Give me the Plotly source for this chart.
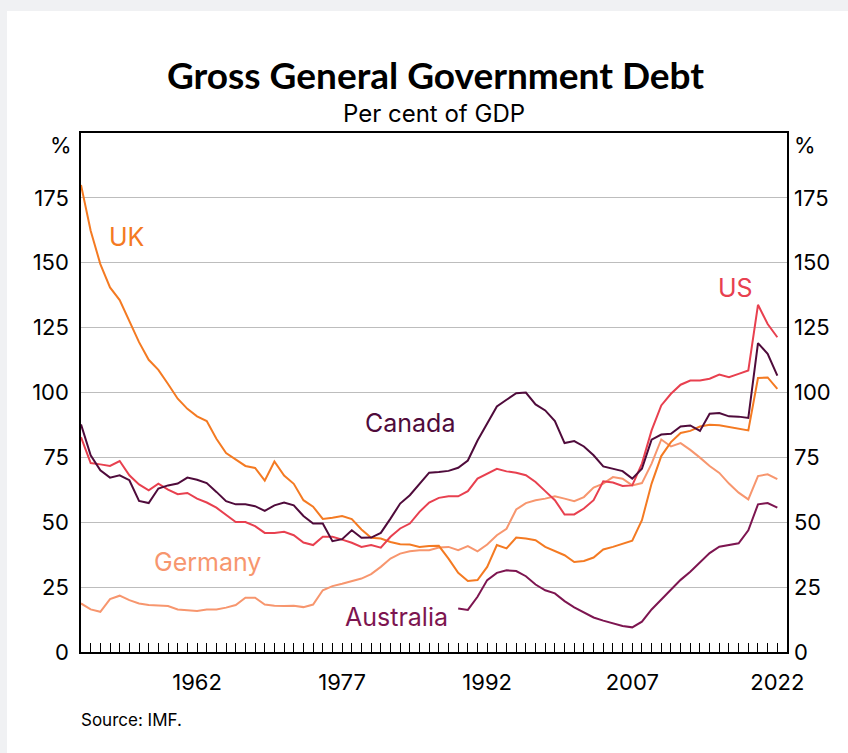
import plotly.graph_objects as go

years = list(range(1950, 2023))
years_aus = list(range(1989, 2023))

uk = [180.0, 162.3, 149.5, 140.5, 135.6, 127.7, 119.4, 112.6, 108.7, 103.3,
      97.6, 93.7, 90.8, 89.0, 82.2, 76.7, 74.1, 71.7, 70.9, 66.0,
      73.4, 68.0, 64.8, 58.5, 56.0, 51.3, 51.7, 52.4, 51.2, 47.2,
      44.0, 43.7, 42.4, 41.5, 41.4, 40.5, 40.8, 40.9, 36.0, 30.5,
      27.4, 27.7, 32.8, 41.2, 39.9, 44.1, 43.7, 43.1, 40.5, 38.8,
      37.3, 34.7, 35.1, 36.4, 39.5, 40.5, 41.8, 42.9, 50.8, 64.9,
      75.5, 80.9, 84.4, 85.2, 86.9, 87.6, 87.4, 86.7, 86.2, 85.4,
      105.6, 105.8, 101.4]

us = [82.8, 72.8, 72.3, 71.7, 73.6, 68.1, 64.6, 62.3, 64.9, 62.6,
      60.8, 61.3, 59.1, 57.6, 55.6, 53.0, 50.1, 50.1, 48.5, 45.9,
      45.9, 46.3, 45.0, 42.2, 41.2, 44.4, 44.4, 43.3, 42.1, 40.5,
      41.2, 40.2, 44.4, 47.6, 49.5, 54.0, 57.6, 59.4, 60.0, 60.0,
      62.0, 66.8, 68.7, 70.6, 69.6, 69.1, 68.1, 65.5, 62.0, 58.5,
      53.0, 53.0, 55.3, 58.5, 65.8, 65.3, 64.0, 64.2, 72.6, 85.4,
      95.0, 99.5, 103.0, 104.6, 104.6, 105.3, 106.9, 105.9, 107.2, 108.5,
      133.8, 126.4, 121.3]

canada = [87.7, 75.8, 70.0, 67.2, 68.1, 66.2, 58.2, 57.4, 63.0, 64.2,
          64.9, 67.2, 66.4, 65.1, 61.7, 58.1, 56.9, 56.9, 56.2, 54.4,
          56.5, 57.6, 56.5, 52.4, 49.5, 49.5, 42.7, 43.5, 46.9, 44.0,
          44.1, 45.9, 51.4, 57.2, 60.4, 64.9, 69.1, 69.4, 69.8, 71.0,
          73.8, 81.5, 88.2, 94.6, 97.2, 99.7, 100.0, 95.4, 93.1, 89.0,
          80.5, 81.3, 79.2, 75.8, 71.5, 70.5, 69.7, 66.8, 70.6, 81.8,
          83.8, 84.1, 86.9, 87.3, 85.2, 91.8, 92.1, 90.8, 90.7, 90.2,
          119.0, 114.9, 106.5]

germany = [18.7, 16.4, 15.5, 20.4, 21.7, 20.0, 18.7, 18.1, 17.9, 17.7,
           16.4, 16.2, 15.8, 16.4, 16.4, 17.1, 18.1, 20.9, 20.9, 18.3,
           17.8, 17.7, 17.8, 17.3, 18.3, 23.8, 25.4, 26.3, 27.4, 28.3,
           30.0, 32.8, 36.0, 37.9, 38.8, 39.2, 39.2, 40.3, 40.5, 39.2,
           40.8, 38.8, 41.4, 45.0, 47.5, 54.9, 57.4, 58.5, 59.1, 60.0,
           59.1, 58.1, 59.7, 63.4, 64.9, 67.4, 66.8, 64.2, 65.1, 72.6,
           81.9, 79.2, 80.5, 77.9, 74.9, 71.7, 69.0, 64.9, 61.4, 58.8,
           67.8, 68.5, 66.6]

australia = [16.8, 16.2, 21.3, 27.7, 30.5, 31.5, 31.2, 29.2, 26.0, 23.8,
             22.6, 19.6, 17.2, 15.1, 13.3, 12.1, 11.0, 10.0, 9.5, 11.7,
             16.4, 20.3, 24.2, 27.8, 30.9, 34.5, 38.1, 40.6, 41.3, 41.9,
             46.9, 56.9, 57.4, 55.6]

x_tick_labels = [1962, 1977, 1992, 2007, 2022]
y_ticks = [0, 25, 50, 75, 100, 125, 150, 175]

C_UK = "#F47A22"
C_US = "#E8404F"
C_CA = "#4F0B3B"
C_DE = "#F7966E"
C_AU = "#7D1550"

FONT = "Inter"
TFONT = "Lato"

fig = go.Figure()
series = [
    ("Germany", years, germany, C_DE),
    ("Australia", years_aus, australia, C_AU),
    ("UK", years, uk, C_UK),
    ("US", years, us, C_US),
    ("Canada", years, canada, C_CA),
]
for name, xs, ys, col in series:
    fig.add_trace(go.Scatter(x=xs, y=ys, mode="lines", name=name,
                             line=dict(color=col, width=2), hoverinfo="skip"))
# invisible trace for right axis
fig.add_trace(go.Scatter(x=[1950], y=[0], yaxis="y2", mode="markers",
                         marker=dict(opacity=0), showlegend=False, hoverinfo="skip"))

L, R, T, B = 81, 61, 133, 101
W, H = 848, 753
pw, ph = W - L - R, H - T - B

def px_x(px):
    return (px - L) / pw

def px_y(py):
    return (H - B - py) / ph

fig.add_shape(type="rect", xref="paper", yref="paper",
              x0=px_x(7), x1=px_x(W + 5), y0=px_y(H + 5), y1=px_y(11),
              fillcolor="white", line=dict(width=0), layer="below")

annotations = [
    dict(text="<b>Gross General Government Debt</b>", x=px_x(435), y=px_y(74),
         font=dict(size=37, color="black", family=TFONT)),
    dict(text="Per cent of GDP", x=px_x(434), y=px_y(113),
         font=dict(size=24, color="black", family=FONT)),
    dict(text="%", x=px_x(74), y=px_y(145), xanchor="right",
         font=dict(size=22, color="black", family=FONT)),
    dict(text="%", x=px_x(792), y=px_y(145), xanchor="left",
         font=dict(size=22, color="black", family=FONT)),
    dict(text="Source: IMF.", x=px_x(79), y=px_y(720), xanchor="left",
         font=dict(size=17, color="black", family=FONT)),
]
for a in annotations:
    a.update(xref="paper", yref="paper", showarrow=False)
    if "xanchor" not in a:
        a["xanchor"] = "center"
    a["yanchor"] = "middle"

labels = [
    ("UK", 1954.76, 160, C_UK),
    ("Canada", 1984.0, 88.1, C_CA),
    ("Germany", 1963.1, 34.6, C_DE),
    ("Australia", 1982.6, 13.5, C_AU),
    ("US", 2017.7, 140.4, C_US),
]
for t, xv, yv, col in labels:
    annotations.append(dict(text=t, x=xv, y=yv, xref="x", yref="y", showarrow=False,
                            xanchor="center", yanchor="middle",
                            font=dict(size=25, color=col, family=FONT)))

fig.update_layout(
    width=W, height=H,
    margin=dict(l=L, r=R, t=T, b=B, pad=0),
    paper_bgcolor="#F0F1F3",
    plot_bgcolor="white",
    showlegend=False,
    font=dict(family=FONT, color="black"),
    annotations=annotations,
    xaxis=dict(range=[1950, 2023], showgrid=False, zeroline=False,
               showline=True, linecolor="black", linewidth=1.5, mirror=True,
               tickvals=x_tick_labels, ticktext=[str(v) for v in x_tick_labels],
               ticks="inside", ticklen=9, tickcolor="black", tickwidth=1,
               minor=dict(ticks="inside", ticklen=9, dtick=1, tick0=1950,
                          tickcolor="black", tickwidth=1, showgrid=False),
               tickfont=dict(size=22, family=FONT, color="black"),
               ticklabelstandoff=10),
    yaxis=dict(range=[0, 200], tickvals=y_ticks, showgrid=True,
               gridcolor="#BDBDBD", gridwidth=1, zeroline=False,
               showline=True, linecolor="black", linewidth=1.5, mirror=True,
               ticks="", tickfont=dict(size=22, family=FONT, color="black"),
               ticklabelstandoff=6),
    yaxis2=dict(range=[0, 200], tickvals=y_ticks, overlaying="y", side="right",
                showgrid=False, zeroline=False, showline=False, ticks="",
                tickfont=dict(size=22, family=FONT, color="black"),
                ticklabelstandoff=6),
)

fig.write_html("out.html",
               config={"displayModeBar": False},
               post_script="document.body.style.margin='0';document.body.style.overflow='hidden';")
